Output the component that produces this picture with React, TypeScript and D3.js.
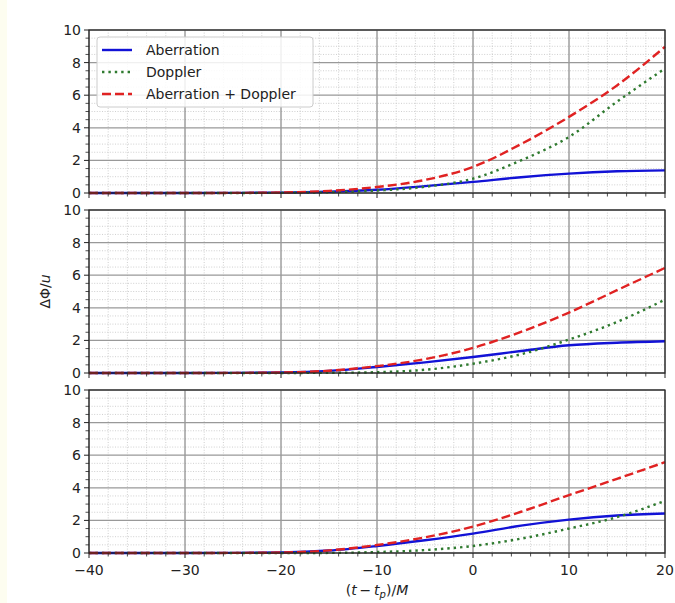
import React from 'react';
import * as d3 from 'd3';

// sample times (t - t_p)/M
const times = [-40, -30, -25, -20, -15, -10, -5, 0, 5, 10, 15, 20];

// panel 1
const aberration1 = [0, 0, 0.005, 0.02, 0.08, 0.2, 0.42, 0.68, 0.97, 1.19, 1.33, 1.39];
const doppler1 = [0, 0, 0.002, 0.01, 0.05, 0.15, 0.38, 0.88, 2.0, 3.44, 5.6, 7.64];
const combined1 = [0, 0, 0.007, 0.03, 0.13, 0.37, 0.8, 1.6, 3.0, 4.67, 6.6, 8.97];

// panel 2
const aberration2 = [0, 0, 0.006, 0.03, 0.13, 0.37, 0.65, 0.98, 1.35, 1.7, 1.86, 1.95];
const doppler2 = [0, 0, 0, 0.002, 0.01, 0.05, 0.2, 0.57, 1.15, 2.05, 3.13, 4.5];
const combined2 = [0, 0, 0.006, 0.032, 0.14, 0.42, 0.85, 1.54, 2.52, 3.71, 5.08, 6.45];

// panel 3
const aberration3 = [0, 0, 0.006, 0.03, 0.15, 0.43, 0.78, 1.19, 1.68, 2.05, 2.3, 2.42];
const doppler3 = [0, 0, 0, 0, 0.005, 0.06, 0.18, 0.43, 0.88, 1.5, 2.2, 3.2];
const combined3 = [0, 0, 0.006, 0.03, 0.16, 0.49, 0.96, 1.62, 2.53, 3.55, 4.55, 5.57];

const panels = [
    [aberration1, doppler1, combined1],
    [aberration2, doppler2, combined2],
    [aberration3, doppler3, combined3],
];

const seriesNames = ['Aberration', 'Doppler', 'Aberration + Doppler'];
const xTicks = [-40, -30, -20, -10, 0, 10, 20];
const yTicks = [0, 2, 4, 6, 8, 10];

const colors = ['#1212d6', '#2f7a2f', '#e02222'];
const dashes = ['none', '2.4,4', '9,4'];

const W = 675;
const H = 603;
const left = 89;
const right = 665;
const panelTops = [30, 210, 390];
const panelH = 163;
const font = 'DejaVu Sans, sans-serif';

const App = () => {
    const x = d3.scaleLinear().domain([-40, 20]).range([left, right]);
    const xMinor = d3.range(-40, 20.01, 2).filter(v => !xTicks.includes(v));
    const yMinor = d3.range(0, 10.01, 0.5).filter(v => !yTicks.includes(v));

    return (
        <svg width={W} height={H} style={{display: 'block', position: 'absolute', left: 0, top: 0}}>
            <rect x={0} y={0} width={W} height={H} fill="#fff"/>
            <rect x={0} y={0} width={7} height={H} fill="#fdfdf0"/>
            {panels.map((series, pi) => {
                const top = panelTops[pi];
                const y = d3.scaleLinear().domain([0, 10]).range([top + panelH, top]);
                const line = d3.line<number>()
                    .x((_, i) => x(times[i]))
                    .y(d => y(d))
                    .curve(d3.curveMonotoneX);
                const isLast = pi === panels.length - 1;
                return (
                    <g key={pi}>
                        {/* minor grid */}
                        {xMinor.map(v => (
                            <line key={'xm' + v} x1={x(v)} x2={x(v)} y1={top} y2={top + panelH}
                                  stroke="#c4c4c4" strokeWidth={0.8} strokeDasharray="1,1.6"/>
                        ))}
                        {yMinor.map(v => (
                            <line key={'ym' + v} x1={left} x2={right} y1={y(v)} y2={y(v)}
                                  stroke="#c4c4c4" strokeWidth={0.8} strokeDasharray="1,1.6"/>
                        ))}
                        {/* major grid */}
                        {xTicks.map(v => (
                            <line key={'xg' + v} x1={x(v)} x2={x(v)} y1={top} y2={top + panelH}
                                  stroke="#6e6e6e" strokeWidth={1}/>
                        ))}
                        {yTicks.map(v => (
                            <line key={'yg' + v} x1={left} x2={right} y1={y(v)} y2={y(v)}
                                  stroke="#999" strokeWidth={1.3}/>
                        ))}
                        {/* curves */}
                        {series.map((vals, si) => (
                            <path key={si} d={line(vals)!} fill="none" stroke={colors[si]}
                                  strokeWidth={2.4} strokeDasharray={dashes[si]}/>
                        ))}
                        {/* frame */}
                        <rect x={left} y={top} width={right - left} height={panelH}
                              fill="none" stroke="#222" strokeWidth={1.2}/>
                        {/* x ticks */}
                        {xTicks.map(v => (
                            <line key={'xt' + v} x1={x(v)} x2={x(v)} y1={top + panelH} y2={top + panelH + 5}
                                  stroke="#222" strokeWidth={1}/>
                        ))}
                        {xMinor.map(v => (
                            <line key={'xmt' + v} x1={x(v)} x2={x(v)} y1={top + panelH} y2={top + panelH + 3.5}
                                  stroke="#222" strokeWidth={0.8}/>
                        ))}
                        {/* y ticks */}
                        {yTicks.map(v => (
                            <g key={'yt' + v}>
                                <line x1={left - 5} x2={left} y1={y(v)} y2={y(v)} stroke="#222" strokeWidth={1}/>
                                <text x={left - 8} y={y(v)} dy="0.35em" textAnchor="end"
                                      fontFamily={font} fontSize={14} fill="#222">{v}</text>
                            </g>
                        ))}
                        {yMinor.map(v => (
                            <line key={'ymt' + v} x1={left - 3.5} x2={left} y1={y(v)} y2={y(v)}
                                  stroke="#222" strokeWidth={0.8}/>
                        ))}
                        {isLast && xTicks.map(v => (
                            <text key={'xl' + v} x={x(v)} y={top + panelH + 22} textAnchor="middle"
                                  fontFamily={font} fontSize={14} fill="#222">
                                {v < 0 ? '\u2212' + Math.abs(v) : v}
                            </text>
                        ))}
                    </g>
                );
            })}

            {/* legend */}
            <g>
                <rect x={97} y={37} width={216} height={70} rx={3} fill="#fff" fillOpacity={0.85}
                      stroke="#ccc" strokeWidth={1}/>
                {seriesNames.map((name, i) => (
                    <g key={name}>
                        <line x1={102} x2={132} y1={50 + i * 22} y2={50 + i * 22} stroke={colors[i]}
                              strokeWidth={2.4} strokeDasharray={dashes[i]}/>
                        <text x={146} y={50 + i * 22} dy="0.35em" fontFamily={font} fontSize={14}
                              fill="#222">{name}</text>
                    </g>
                ))}
            </g>

            {/* axis labels */}
            <text x={(left + right) / 2} y={595} textAnchor="middle" fontFamily={font} fontSize={14} fill="#222">
                (<tspan fontStyle="italic">t</tspan>{'\u2009\u2212\u2009'}<tspan fontStyle="italic">t</tspan>
                <tspan fontStyle="italic" fontSize={10} dy={3}>p</tspan>
                <tspan dy={-3}>)/</tspan><tspan fontStyle="italic">M</tspan>
            </text>
            <text transform={`translate(50, ${panelTops[1] + panelH / 2}) rotate(-90)`} textAnchor="middle"
                  fontFamily={font} fontSize={14} fill="#222">
                ΔΦ/<tspan fontStyle="italic">u</tspan>
            </text>
        </svg>
    );
};

export default App;
